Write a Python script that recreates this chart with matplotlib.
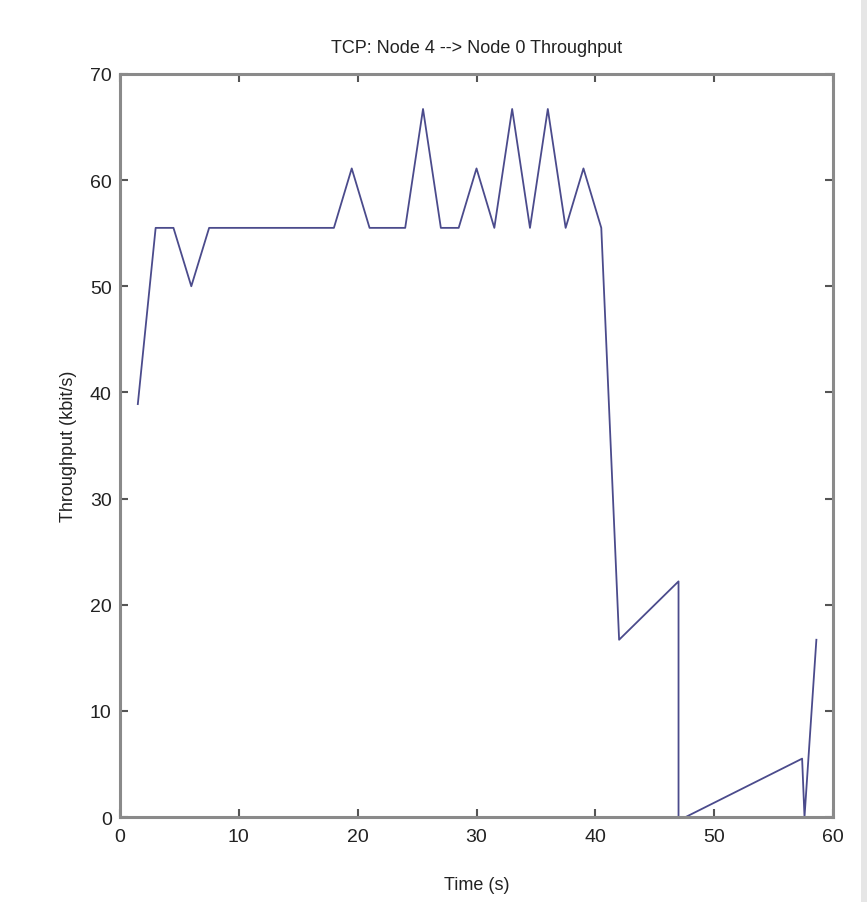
import matplotlib

matplotlib.use("Agg")
import matplotlib.pyplot as plt
from matplotlib import font_manager
from matplotlib.patches import Rectangle

# vertices of the throughput trace
time_s = [1.5, 3.0, 4.5, 6.0, 7.5, 18.0, 19.5, 21.0, 24.0, 25.5, 27.0, 28.5, 30.0,
          31.5, 33.0, 34.5, 36.0, 37.5, 39.0, 40.5, 42.0, 47.0, 47.0, 47.6, 57.4,
          57.6, 58.6]
throughput = [38.9, 55.5, 55.5, 50.0, 55.5, 55.5, 61.1, 55.5, 55.5, 66.7, 55.5, 55.5, 61.1,
              55.5, 66.7, 55.5, 66.7, 55.5, 61.1, 55.5, 16.7, 22.2, 0.0, 0.0, 5.5,
              0.0, 16.7]
x_ticks = [0, 10, 20, 30, 40, 50, 60]
y_ticks = [0, 10, 20, 30, 40, 50, 60, 70]

LINE_COLOR = "#4b4b8c"
FRAME_COLOR = "#8a8a8a"
TEXT_COLOR = "#222222"

names = {f.name for f in font_manager.fontManager.ttflist}
family = ["Liberation Sans Narrow"] if "Liberation Sans Narrow" in names else ["Liberation Sans"]
plt.rcParams["font.family"] = family + ["DejaVu Sans"]

fig = plt.figure(figsize=(8.67, 9.03), dpi=100)
# light grey strip on the right edge of the screenshot
fig.patches.append(Rectangle((0.993, 0), 0.007, 1, transform=fig.transFigure,
                             facecolor="#e6e6e6", edgecolor="none"))
ax = fig.add_axes([0.1384, 0.0941, 0.8224, 0.8229])

ax.plot(time_s, throughput, color=LINE_COLOR, linewidth=1.3)

ax.set_xlim(0, 60)
ax.set_ylim(0, 70)
ax.set_xticks(x_ticks)
ax.set_yticks(y_ticks)
ax.tick_params(direction="in", length=6, width=1.5, color="#555555",
               top=True, right=True, labelsize=14, labelcolor=TEXT_COLOR)
ax.tick_params(axis="x", pad=8)
ax.tick_params(axis="y", pad=6)

for spine in ax.spines.values():
    spine.set_color(FRAME_COLOR)
    spine.set_linewidth(2.2)

ax.set_title("TCP: Node 4 --> Node 0 Throughput", fontsize=13, color=TEXT_COLOR, pad=16)
ax.set_xlabel("Time (s)", fontsize=13, color=TEXT_COLOR, labelpad=22)
ax.set_ylabel("Throughput (kbit/s)", fontsize=13, color=TEXT_COLOR, labelpad=9)

fig.savefig("out.png", dpi=100)
